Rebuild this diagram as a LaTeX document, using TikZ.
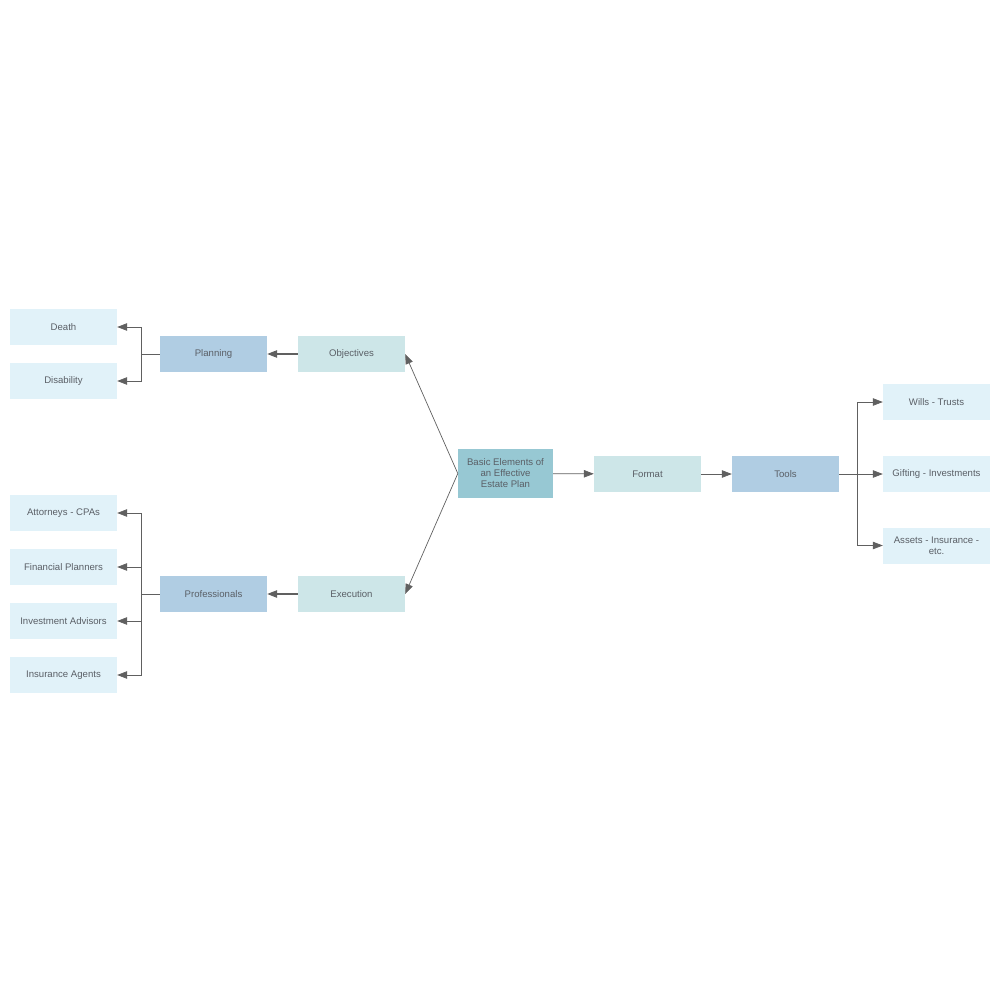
\documentclass[tikz,border=0pt]{standalone}
\usepackage{fontspec}
\setmainfont{Liberation Sans}
\usetikzlibrary{positioning,arrows.meta}
\definecolor{leafblue}{HTML}{E1F2F9}
\definecolor{midblue}{HTML}{B0CDE3}
\definecolor{paleteal}{HTML}{CDE6E8}
\definecolor{hubteal}{HTML}{97C8D3}
\definecolor{txtgray}{HTML}{5A5F66}
\definecolor{linegray}{HTML}{606060}
\begin{document}
\begin{tikzpicture}[x=1pt, y=-1pt,
  box/.style={minimum width=107pt, minimum height=36pt, inner sep=2pt, text=txtgray, font=\fontsize{9.6}{11}\selectfont, align=center},
  leaf/.style={box, fill=leafblue},
  group/.style={box, fill=midblue},
  branch/.style={box, fill=paleteal},
  link/.style={draw=linegray, line width=0.7pt, -{Triangle[length=10pt, width=7.5pt]}},
  stub/.style={draw=linegray, line width=0.7pt}]
\useasboundingbox (0,0) rectangle (1000,1000);
% centre
\node[box, fill=hubteal, minimum width=95pt, minimum height=49pt] (hub) at (505.5,473.5) {Basic Elements of\\an Effective\\Estate Plan};
% upper left branch
\node[branch] (objectives) at (351.5,354) {Objectives};
\node[group] (planning) at (213.5,354) {Planning};
\node[leaf] (death) at (63.5,327) {Death};
\node[leaf] (disability) at (63.5,381) {Disability};
% lower left branch
\node[branch] (execution) at (351.5,594) {Execution};
\node[group] (professionals) at (213.5,594) {Professionals};
\node[leaf] (attorneys) at (63.5,513) {Attorneys - CPAs};
\node[leaf] (planners) at (63.5,567) {Financial Planners};
\node[leaf] (advisors) at (63.5,621) {Investment Advisors};
\node[leaf] (agents) at (63.5,675) {Insurance Agents};
% right branch
\node[branch] (format) at (647.5,474) {Format};
\node[group] (tools) at (785.5,474) {Tools};
\node[leaf] (wills) at (936.5,402) {Wills - Trusts};
\node[leaf] (gifting) at (936.5,474) {Gifting - Investments};
\node[leaf] (assets) at (936.5,545.5) {Assets - Insurance -\\etc.};
% connectors
\draw[link] (hub.west) -- (objectives.east);
\draw[link] (hub.west) -- (execution.east);
\draw[link, line width=1.2pt] (objectives) -- (planning);
\draw[link, line width=1.2pt] (execution) -- (professionals);
\draw[link] (hub) -- (format);
\draw[link] (format) -- (tools);
\draw[stub] (planning.west) -- ++(-18,0) coordinate (pbus);
\foreach \n in {death,disability}
  \draw[link] (pbus) |- (\n.east);
\draw[stub] (professionals.west) -- ++(-18,0) coordinate (rbus);
\foreach \n in {attorneys,planners,advisors,agents}
  \draw[link] (rbus) |- (\n.east);
\draw[stub] (tools.east) -- ++(18,0) coordinate (tbus);
\foreach \n in {wills,gifting,assets}
  \draw[link] (tbus) |- (\n.west);
\end{tikzpicture}
\end{document}
